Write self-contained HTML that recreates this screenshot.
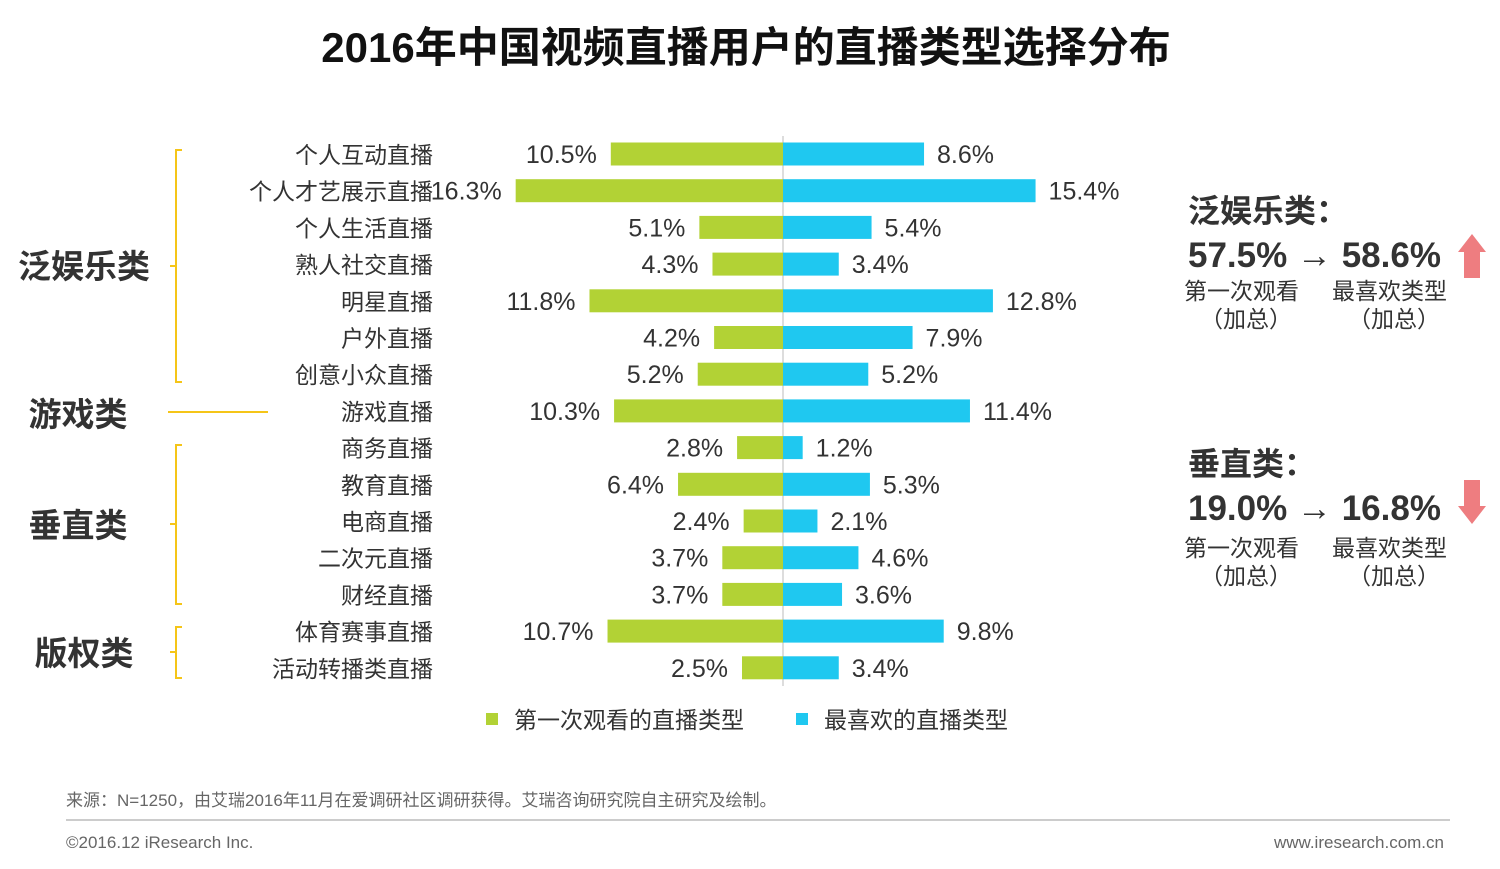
<!DOCTYPE html>
<html><head><meta charset="utf-8"><style>
body{margin:0;background:#fff;width:1500px;height:864px;overflow:hidden;font-family:"Liberation Sans","Noto Sans CJK SC",sans-serif;}
svg text{font-family:"Liberation Sans","Noto Sans CJK SC",sans-serif;}
</style></head><body>
<svg id="chart" width="1500" height="864" xmlns="http://www.w3.org/2000/svg">
<text x="746" y="62" text-anchor="middle" font-size="42" font-weight="bold" fill="#111">2016年中国视频直播用户的直播类型选择分布</text>
<g stroke="#f5c518" stroke-width="2" fill="none">
<path d="M182,150 H176 V382 H182 M176,266 H170"/>
<path d="M168,412 H268"/>
<path d="M182,445 H176 V604 H182 M176,524 H170"/>
<path d="M182,627 H176 V678 H182 M176,652 H170"/>
</g>
<g font-size="33" font-weight="bold" fill="#333" text-anchor="middle">
<text x="84" y="278">泛娱乐类</text>
<text x="78" y="426">游戏类</text>
<text x="78" y="537">垂直类</text>
<text x="84" y="665">版权类</text>
</g>
<line x1="783" y1="136" x2="783" y2="686" stroke="#bbb" stroke-width="1"/>
<g id="bars"></g>
<g font-size="23" fill="#333">
<rect x="486" y="713" width="12" height="12" fill="#b2d235"/>
<text x="514" y="728">第一次观看的直播类型</text>
<rect x="796" y="713" width="12" height="12" fill="#1fc8f0"/>
<text x="824" y="728">最喜欢的直播类型</text>
</g>
<g fill="#333">
<text x="1188" y="222" font-size="32" font-weight="bold">泛娱乐类：</text>
<text x="1188" y="267" font-size="35" font-weight="bold">57.5% <tspan font-weight="normal">→</tspan> 58.6%</text>
<text x="1184" y="299" font-size="23">第一次观看</text>
<text x="1200" y="327" font-size="23">（加总）</text>
<text x="1332" y="299" font-size="23">最喜欢类型</text>
<text x="1348" y="327" font-size="23">（加总）</text>
<path d="M1464,278 V252 H1458 L1472,234 L1486,252 H1480 V278 Z" fill="#ee7d80"/>
</g>
<g fill="#333">
<text x="1188" y="475" font-size="32" font-weight="bold">垂直类：</text>
<text x="1188" y="520" font-size="35" font-weight="bold">19.0% <tspan font-weight="normal">→</tspan> 16.8%</text>
<text x="1184" y="556" font-size="23">第一次观看</text>
<text x="1200" y="584" font-size="23">（加总）</text>
<text x="1332" y="556" font-size="23">最喜欢类型</text>
<text x="1348" y="584" font-size="23">（加总）</text>
<path d="M1464,480 V506 H1458 L1472,524 L1486,506 H1480 V480 Z" fill="#ee7d80"/>
</g>
<text x="66" y="806" font-size="17" fill="#666">来源：N=1250，由艾瑞2016年11月在爱调研社区调研获得。艾瑞咨询研究院自主研究及绘制。</text>
<line x1="66" y1="820" x2="1450" y2="820" stroke="#999" stroke-width="1"/>
<text x="66" y="848" font-size="17" fill="#666">©2016.12 iResearch Inc.</text>
<text x="1444" y="848" font-size="17" fill="#666" text-anchor="end">www.iresearch.com.cn</text>
</svg>
<script>
const categories = ["个人互动直播","个人才艺展示直播","个人生活直播","熟人社交直播","明星直播","户外直播","创意小众直播","游戏直播","商务直播","教育直播","电商直播","二次元直播","财经直播","体育赛事直播","活动转播类直播"];
const firstWatch = [10.5,16.3,5.1,4.3,11.8,4.2,5.2,10.3,2.8,6.4,2.4,3.7,3.7,10.7,2.5];
const favorite = [8.6,15.4,5.4,3.4,12.8,7.9,5.2,11.4,1.2,5.3,2.1,4.6,3.6,9.8,3.4];
const NS = "http://www.w3.org/2000/svg";
const cx = 783, pxPer = 16.4, y0 = 154, step = 36.7, bh = 23;
const xLeft = v => cx - v * pxPer;
const xRight = v => cx + v * pxPer;
const yRow = i => y0 + i * step;
const g = document.getElementById('bars');
function mk(tag, attrs, txt){const e=document.createElementNS(NS,tag);for(const k in attrs)e.setAttribute(k,attrs[k]);if(txt!==undefined)e.textContent=txt;g.appendChild(e);return e;}
categories.forEach((c,i)=>{
  const y = yRow(i);
  const lab = mk('text',{x:433,y:y+9,'font-size':23,fill:'#333','text-anchor':'end'},c);
  
  
  const b1 = mk('rect',{x:xLeft(firstWatch[i]),y:y-bh/2,width:cx-xLeft(firstWatch[i]),height:bh,fill:'#b2d235'});
  
  
  const b2 = mk('rect',{x:cx,y:y-bh/2,width:xRight(favorite[i])-cx,height:bh,fill:'#1fc8f0'});
  
  
  const t1 = mk('text',{x:xLeft(firstWatch[i])-14,y:y+9,'font-size':25,fill:'#333','text-anchor':'end'},firstWatch[i].toFixed(1)+'%');
  
  
  const t2 = mk('text',{x:xRight(favorite[i])+13,y:y+9,'font-size':25,fill:'#333'},favorite[i].toFixed(1)+'%');
  
  
});
</script>
</body></html>
